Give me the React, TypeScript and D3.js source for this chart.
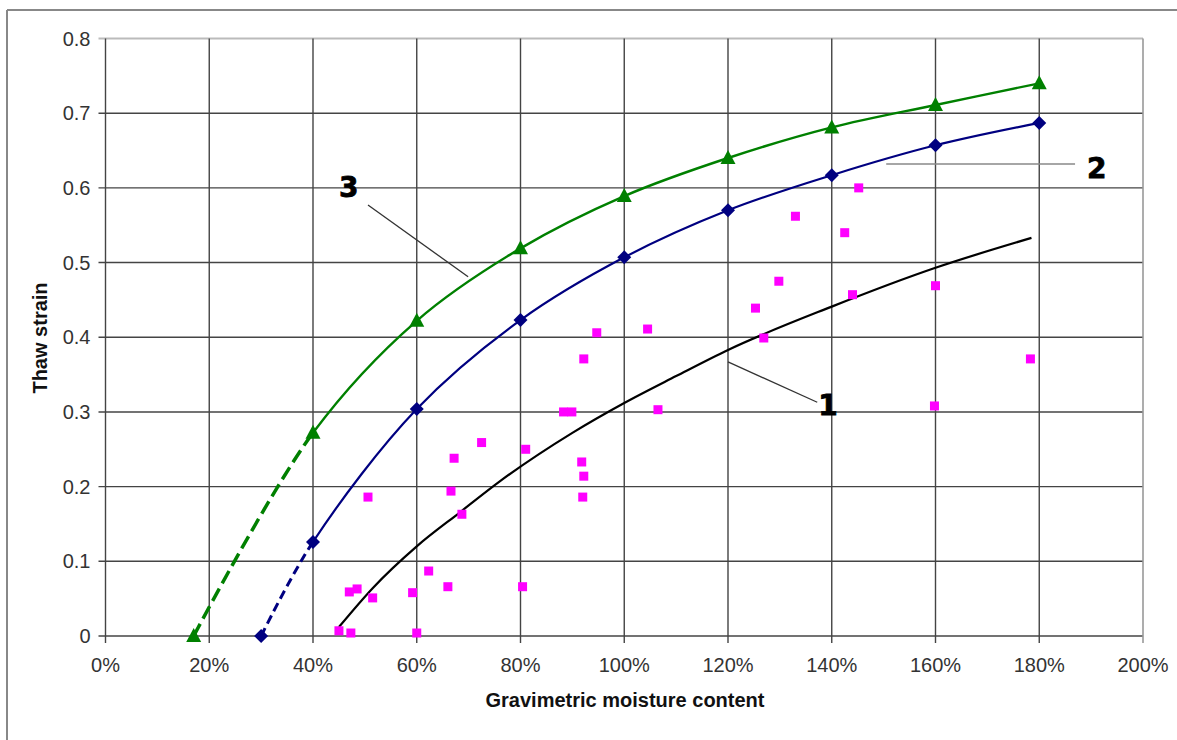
import * as d3 from 'd3';
import React from 'react';

// moisture content (%) / thaw strain
const curve3X = [17, 40, 60, 80, 100, 120, 140, 160, 180];
const curve3Y = [0, 0.272, 0.422, 0.519, 0.589, 0.640, 0.681, 0.711, 0.740];

const curve2X = [30, 40, 60, 80, 100, 120, 140, 160, 180];
const curve2Y = [0, 0.126, 0.304, 0.423, 0.507, 0.570, 0.617, 0.657, 0.687];

const curve1X = [45, 51.5, 60, 68.4, 76, 90, 100, 110, 120, 140, 160, 178.5];
const curve1Y = [0.012, 0.064, 0.12, 0.166, 0.207, 0.272, 0.312, 0.348, 0.383, 0.441, 0.493, 0.533];

const measX = [45, 47.3, 47, 48.5, 50.6, 51.5, 59.2, 60, 62.3, 66, 66.6, 67.2, 68.7, 72.5, 80.4, 81,
  88.3, 89.9, 91.8, 92.2, 92, 92.2, 94.7, 104.5, 106.5, 125.3, 126.9, 129.8, 133, 142.5, 144, 145.2,
  160, 159.8, 178.3];
const measY = [0.007, 0.004, 0.059, 0.063, 0.186, 0.051, 0.058, 0.004, 0.087, 0.066, 0.194, 0.238, 0.163,
  0.259, 0.066, 0.25, 0.3, 0.3, 0.233, 0.214, 0.186, 0.371, 0.406, 0.411, 0.303, 0.439, 0.399, 0.475,
  0.562, 0.54, 0.457, 0.6, 0.469, 0.308, 0.371];

const xTicks = [0, 20, 40, 60, 80, 100, 120, 140, 160, 180, 200];
const yTicks = [0, 0.1, 0.2, 0.3, 0.4, 0.5, 0.6, 0.7, 0.8];

// label leaders: [x1, y1, x2, y2], text anchor [x, y]
const labels = [
  { text: '1', line: [120, 0.367, 137.2, 0.313], at: [137.4, 0.296], stroke: '#333' },
  { text: '2', line: [150.5, 0.632, 186.9, 0.632], at: [189.2, 0.613], stroke: '#888' },
  { text: '3', line: [50.6, 0.577, 69.9, 0.481], at: [45, 0.588], stroke: '#333' },
];

const W = 1177, H = 740;
const left = 105.5, right = 1143, top = 38.5, bottom = 636;

export default function App() {
  const x = d3.scaleLinear().domain([0, 200]).range([left, right]);
  const y = d3.scaleLinear().domain([0, 0.8]).range([bottom, top]);

  const line = d3.line<[number, number]>()
    .x((d) => x(d[0]))
    .y((d) => y(d[1]))
    .curve(d3.curveCatmullRom.alpha(0.5));

  const smooth = d3.line<[number, number]>()
    .x((d) => x(d[0]))
    .y((d) => y(d[1]))
    .curve(d3.curveMonotoneX);

  const pts = (xs: number[], ys: number[]) => xs.map((v, i) => [v, ys[i]] as [number, number]);
  const p3 = pts(curve3X, curve3Y);
  const p2 = pts(curve2X, curve2Y);
  const p1 = pts(curve1X, curve1Y);

  const font = '"Liberation Sans", Arial, sans-serif';

  return (
    <svg width={W} height={H} style={{ position: 'absolute', left: 0, top: 0, background: '#fff' }}>
      <defs>
        <clipPath id="dashPart">
          <rect x={0} y={0} width={x(40)} height={H} />
        </clipPath>
        <clipPath id="solidPart">
          <rect x={x(40)} y={0} width={W} height={H} />
        </clipPath>
      </defs>

      {/* outer frame */}
      <line x1={7} y1={10} x2={W} y2={10} stroke="#888" strokeWidth={2} />
      <line x1={7} y1={10} x2={7} y2={H} stroke="#888" strokeWidth={2} />

      {/* grid */}
      {yTicks.map((t) => (
        <line key={'gy' + t} x1={x(0) - 7} x2={x(200)} y1={y(t)} y2={y(t)}
          stroke={t === 0.8 ? '#bbb' : '#444'} strokeWidth={t === 0.8 ? 2 : 1.4} />
      ))}
      {xTicks.map((t) => (
        <line key={'gx' + t} x1={x(t)} x2={x(t)} y1={y(0.8)} y2={y(0) + 7}
          stroke={t === 200 ? '#999' : '#444'} strokeWidth={t === 200 ? 1.6 : 1.4} />
      ))}

      {/* tick labels */}
      {yTicks.map((t) => (
        <text key={'ty' + t} x={x(0) - 15} y={y(t) + 7} textAnchor="end" fontFamily={font}
          fontSize={20} fill="#333">{t === 0 ? '0' : d3.format('.1f')(t)}</text>
      ))}
      {xTicks.map((t) => (
        <text key={'tx' + t} x={x(t)} y={672} textAnchor="middle" fontFamily={font}
          fontSize={20} fill="#333">{t + '%'}</text>
      ))}

      {/* axis titles */}
      <text x={625} y={707} textAnchor="middle" fontFamily={font} fontSize={20} fontWeight="bold"
        fill="#111">Gravimetric moisture content</text>
      <text transform={`translate(47, 338) rotate(-90)`} textAnchor="middle" fontFamily={font}
        fontSize={20} fontWeight="bold" fill="#111">Thaw strain</text>

      {/* curve 1 */}
      <path d={smooth(p1) || ''} fill="none" stroke="#000" strokeWidth={2.2} />

      {/* curve 2 */}
      <path d={line(p2) || ''} fill="none" stroke="#000080" strokeWidth={3}
        strokeDasharray="9,5" clipPath="url(#dashPart)" />
      <path d={line(p2) || ''} fill="none" stroke="#000080" strokeWidth={2.2} clipPath="url(#solidPart)" />

      {/* curve 3 */}
      <path d={line(p3) || ''} fill="none" stroke="#008000" strokeWidth={3.5}
        strokeDasharray="14,6" clipPath="url(#dashPart)" />
      <path d={line(p3) || ''} fill="none" stroke="#008000" strokeWidth={2.4} clipPath="url(#solidPart)" />

      {/* measured points */}
      {measX.map((v, i) => (
        <rect key={'m' + i} x={x(v) - 4.5} y={y(measY[i]) - 4.5} width={9} height={9} fill="#ff00ff" />
      ))}

      {/* markers */}
      {p2.map((d, i) => (
        <path key={'d' + i} d="M0,-7L7,0L0,7L-7,0Z" fill="#000080"
          transform={`translate(${x(d[0])},${y(d[1])})`} />
      ))}
      {p3.map((d, i) => (
        <path key={'t' + i} d="M0,-8L7.5,6L-7.5,6Z" fill="#008000"
          transform={`translate(${x(d[0])},${y(d[1])})`} />
      ))}

      {/* curve labels */}
      {labels.map((l) => (
        <g key={l.text}>
          <line x1={x(l.line[0])} y1={y(l.line[1])} x2={x(l.line[2])} y2={y(l.line[3])}
            stroke={l.stroke} strokeWidth={1.3} />
          <text x={x(l.at[0])} y={y(l.at[1])} fontFamily={'"DejaVu Sans", sans-serif'}
            fontSize={28} fontWeight="bold" fill="#000" stroke="#000" strokeWidth={0.8}>{l.text}</text>
        </g>
      ))}
    </svg>
  );
}
